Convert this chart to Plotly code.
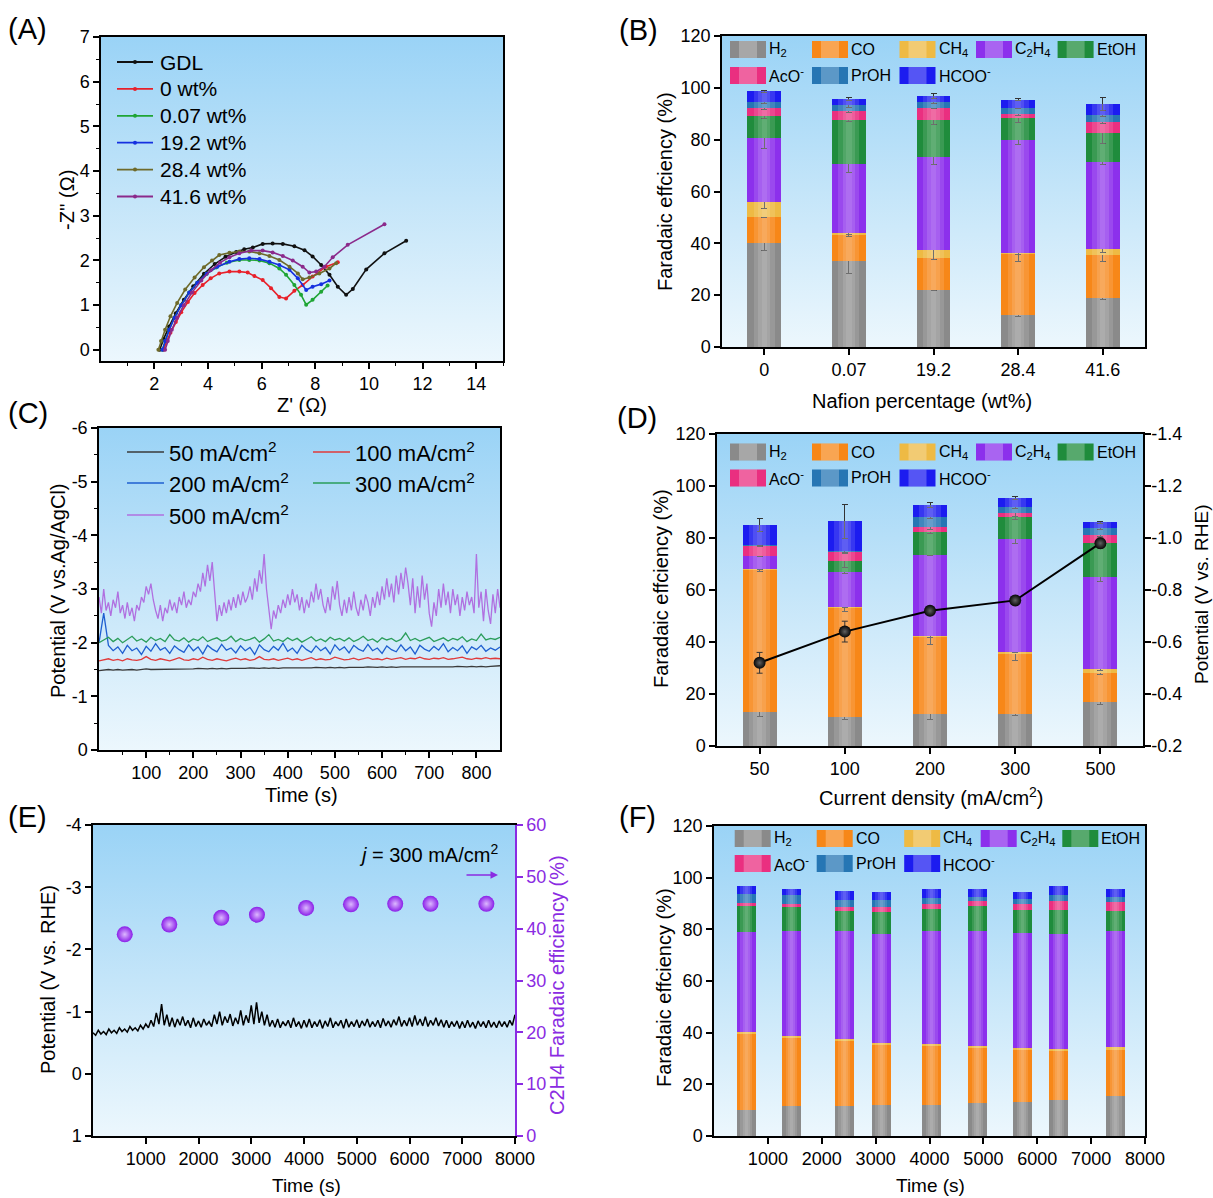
import base64
import plotly.graph_objects as go

W, H = 1213, 1198
FONT = "Liberation Sans, Arial, sans-serif"

# ---------------- Panel A: Nyquist plots ----------------
A_GDL_X = [2.20, 2.35, 2.55, 2.80, 3.10, 3.45, 3.85, 4.25, 4.65, 5.05, 5.35, 5.67, 6.04, 6.41, 6.79, 7.22, 7.60, 7.90, 8.22, 8.53, 8.84, 9.15, 9.40, 9.90, 10.58, 11.39]
A_GDL_Y = [0.00, 0.25, 0.52, 0.82, 1.12, 1.42, 1.70, 1.92, 2.08, 2.19, 2.25, 2.29, 2.37, 2.38, 2.37, 2.32, 2.23, 2.09, 1.90, 1.68, 1.41, 1.23, 1.36, 1.80, 2.16, 2.44]
A_0_X = [2.35, 2.45, 2.60, 2.80, 3.00, 3.25, 3.50, 3.80, 4.10, 4.42, 4.80, 5.17, 5.48, 5.73, 6.04, 6.35, 6.66, 6.91, 7.22, 7.53, 7.90, 8.40, 8.84]
A_0_Y = [0.00, 0.18, 0.38, 0.62, 0.84, 1.07, 1.27, 1.45, 1.60, 1.71, 1.75, 1.75, 1.73, 1.65, 1.56, 1.38, 1.18, 1.15, 1.32, 1.45, 1.64, 1.86, 1.96]
A_007_X = [2.30, 2.40, 2.55, 2.75, 3.00, 3.30, 3.60, 3.95, 4.30, 4.70, 5.17, 5.54, 5.92, 6.29, 6.66, 6.91, 7.22, 7.47, 7.66, 7.90, 8.22, 8.46]
A_007_Y = [0.00, 0.20, 0.45, 0.72, 1.00, 1.28, 1.50, 1.70, 1.84, 1.95, 2.01, 2.01, 2.00, 1.94, 1.82, 1.68, 1.45, 1.23, 1.01, 1.12, 1.30, 1.44]
A_192_X = [2.30, 2.40, 2.55, 2.75, 3.00, 3.30, 3.60, 3.95, 4.35, 4.80, 5.17, 5.54, 5.92, 6.29, 6.66, 7.04, 7.35, 7.66, 7.90, 8.22, 8.53]
A_192_Y = [0.00, 0.20, 0.45, 0.72, 1.00, 1.28, 1.50, 1.70, 1.86, 1.97, 2.03, 2.05, 2.03, 1.97, 1.90, 1.79, 1.60, 1.34, 1.41, 1.47, 1.55]
A_284_X = [2.15, 2.25, 2.40, 2.60, 2.85, 3.15, 3.50, 3.85, 4.15, 4.42, 4.80, 5.17, 5.54, 5.92, 6.29, 6.66, 7.04, 7.35, 7.53, 7.78, 8.15, 8.53, 8.78]
A_284_Y = [0.00, 0.20, 0.45, 0.75, 1.05, 1.35, 1.62, 1.85, 2.00, 2.12, 2.17, 2.20, 2.20, 2.16, 2.10, 2.01, 1.86, 1.71, 1.58, 1.62, 1.71, 1.82, 1.94]
A_416_X = [2.40, 2.50, 2.65, 2.85, 3.10, 3.40, 3.75, 4.10, 4.45, 4.80, 5.17, 5.61, 6.04, 6.41, 6.79, 7.16, 7.53, 7.78, 8.03, 8.34, 8.65, 9.21, 10.58]
A_416_Y = [0.00, 0.20, 0.45, 0.72, 1.00, 1.28, 1.55, 1.78, 1.95, 2.07, 2.16, 2.22, 2.22, 2.18, 2.10, 2.00, 1.86, 1.73, 1.75, 1.86, 2.07, 2.35, 2.81]
A_NAMES = ["GDL", "0 wt%", "0.07 wt%", "19.2 wt%", "28.4 wt%", "41.6 wt%"]
A_COLORS = ["#111111", "#e8202a", "#1fa535", "#1530e0", "#6e6a2a", "#8b2a8b"]

# ---------------- Panel B / D / F: Faradaic efficiencies ----------------
SPECIES = ["H<sub>2</sub>", "CO", "CH<sub>4</sub>", "C<sub>2</sub>H<sub>4</sub>", "EtOH",
           "AcO<sup>-</sup>", "PrOH", "HCOO<sup>-</sup>"]
SP_COLORS = ["#8a8a8a", "#f78718", "#eeba44", "#8c30ec", "#1f8c3c", "#ea2f80", "#2676b4", "#1c1cf0"]

B_CATS = ["0", "0.07", "19.2", "28.4", "41.6"]
B_H2 = [40.3, 33.2, 22.1, 12.3, 19.1]
B_CO = [10.0, 10.3, 12.2, 23.6, 16.5]
B_CH4 = [5.5, 0.4, 3.2, 0.3, 2.1]
B_C2H4 = [24.7, 26.6, 35.9, 43.6, 33.5]
B_ETOH = [8.6, 17.0, 14.1, 8.4, 11.2]
B_ACO = [3.3, 3.6, 4.9, 1.7, 4.5]
B_PROH = [2.1, 2.2, 2.2, 2.5, 2.6]
B_HCOO = [4.1, 2.3, 2.2, 3.1, 4.2]
B_H2_E = [2.9, 5.0, 0.4, 0.6, 0.8]
B_CO_E = [0.5, 0.8, 0.5, 3.0, 2.5]
B_CH4_E = [2.2, 0.5, 3.8, 0.5, 1.2]
B_C2H4_E = [3.8, 3.0, 3.0, 1.5, 0.7]
B_ETOH_E = [0.8, 0.5, 1.8, 1.5, 4.0]
B_ACO_E = [0.8, 0.7, 0.5, 0.5, 0.5]
B_PROH_E = [0.5, 1.0, 0.5, 0.5, 0.5]
B_HCOO_E = [0.3, 0.5, 1.0, 0.3, 2.5]

D_CATS = ["50", "100", "200", "300", "500"]
D_H2 = [13.1, 11.1, 12.2, 12.4, 17.0]
D_CO = [54.9, 42.3, 29.9, 23.3, 10.9]
D_CH4 = [0.2, 0.2, 0.1, 0.4, 1.7]
D_C2H4 = [5.0, 13.2, 31.4, 43.5, 35.5]
D_ETOH = [0.0, 4.5, 8.8, 8.6, 12.9]
D_ACO = [3.9, 3.5, 1.7, 1.4, 3.2]
D_PROH = [0.2, 0.3, 3.8, 2.4, 2.6]
D_HCOO = [7.7, 11.3, 4.8, 3.4, 2.2]
D_H2_E = [1.8, 0.9, 2.0, 0.8, 1.0]
D_CO_E = [1.0, 1.5, 3.2, 2.9, 0.5]
D_CH4_E = [0.3, 0.3, 0.3, 0.3, 0.5]
D_C2H4_E = [0.5, 0.5, 0.3, 1.8, 2.0]
D_ETOH_E = [0.0, 2.5, 0.5, 1.0, 1.0]
D_ACO_E = [0.3, 0.5, 1.0, 1.5, 0.5]
D_PROH_E = [0.3, 1.0, 0.5, 0.5, 0.5]
D_HCOO_E = [2.5, 6.5, 1.0, 0.5, 0.3]
D_POT = [-0.52, -0.64, -0.72, -0.76, -0.98]
D_POT_E = [0.04, 0.04, 0.01, 0.01, 0.02]
D_POT_TICKS = [-0.2, -0.4, -0.6, -0.8, -1.0, -1.2, -1.4]

F_TIME = [598, 1438, 2415, 3102, 4042, 4889, 5727, 6394, 7457]
F_H2 = [10.2, 11.5, 11.6, 11.9, 12.1, 12.9, 13.2, 14.1, 15.4]
F_CO = [29.4, 26.8, 25.4, 23.6, 23.1, 21.4, 20.1, 18.9, 18.2]
F_CH4 = [0.7, 0.5, 0.5, 0.5, 0.5, 0.5, 0.6, 0.5, 0.7]
F_C2H4 = [38.7, 40.6, 41.9, 42.3, 43.7, 44.6, 44.7, 44.8, 45.1]
F_ETOH = [9.9, 9.2, 7.7, 8.5, 8.3, 9.5, 8.8, 9.3, 7.7]
F_ACO = [1.3, 1.3, 1.5, 1.8, 2.0, 1.9, 2.3, 3.2, 3.5]
F_PROH = [3.3, 3.3, 2.9, 2.6, 2.6, 1.7, 2.2, 2.4, 1.9]
F_HCOO = [3.1, 2.5, 3.3, 3.3, 3.4, 3.2, 2.6, 3.6, 3.2]

# ---------------- Panel C: chronopotentiometry ----------------
C_T10 = list(range(0, 851, 10))
C_T5 = list(range(0, 851, 5))
C_YTICKS = [0, -1, -2, -3, -4, -5, -6]
C_NAMES = ["50 mA/cm<sup>2</sup>", "100 mA/cm<sup>2</sup>", "200 mA/cm<sup>2</sup>",
           "300 mA/cm<sup>2</sup>", "500 mA/cm<sup>2</sup>"]
C_COLORS = ["#3a3a3a", "#e03a3a", "#1f5fd0", "#2a9d5a", "#b070e0"]
C_50 = [-1.48, -1.49, -1.50, -1.49, -1.50, -1.49, -1.50, -1.50, -1.49, -1.50,
        -1.51, -1.50, -1.50, -1.51, -1.50, -1.51, -1.50, -1.51, -1.51, -1.50,
        -1.51, -1.52, -1.51, -1.51, -1.52, -1.51, -1.52, -1.51, -1.52, -1.52,
        -1.51, -1.52, -1.53, -1.52, -1.52, -1.53, -1.52, -1.53, -1.52, -1.53,
        -1.53, -1.52, -1.53, -1.53, -1.52, -1.53, -1.54, -1.53, -1.53, -1.54,
        -1.53, -1.54, -1.53, -1.54, -1.54, -1.53, -1.54, -1.55, -1.54, -1.54,
        -1.55, -1.54, -1.55, -1.54, -1.55, -1.55, -1.54, -1.55, -1.54, -1.55,
        -1.55, -1.54, -1.55, -1.55, -1.54, -1.55, -1.56, -1.55, -1.55, -1.56,
        -1.55, -1.56, -1.55, -1.56, -1.56, -1.57]
C_100 = [-1.66, -1.68, -1.70, -1.67, -1.69, -1.66, -1.70, -1.68, -1.67, -1.69,
         -1.74, -1.69, -1.67, -1.70, -1.68, -1.66, -1.69, -1.72, -1.68, -1.67,
         -1.70, -1.68, -1.73, -1.69, -1.67, -1.70, -1.68, -1.66, -1.69, -1.71,
         -1.68, -1.70, -1.67, -1.69, -1.74, -1.69, -1.68, -1.70, -1.67, -1.69,
         -1.71, -1.68, -1.70, -1.67, -1.69, -1.72, -1.68, -1.70, -1.68, -1.69,
         -1.73, -1.70, -1.68, -1.69, -1.71, -1.68, -1.70, -1.72, -1.69, -1.70,
         -1.68, -1.71, -1.69, -1.70, -1.72, -1.69, -1.71, -1.70, -1.73, -1.70,
         -1.69, -1.71, -1.70, -1.72, -1.69, -1.70, -1.71, -1.73, -1.70, -1.69,
         -1.71, -1.70, -1.72, -1.70, -1.71, -1.70]
C_200 = [-2.00, -2.55, -1.95, -1.85, -1.92, -1.80, -1.95, -1.85, -1.90, -1.78,
         -1.93, -1.84, -1.98, -1.86, -1.91, -1.80, -1.94, -1.87, -1.82, -1.96,
         -1.85, -1.92, -1.79, -1.95, -1.88, -1.83, -1.97, -1.86, -1.90, -1.81,
         -1.94, -1.85, -1.91, -1.78, -1.96, -1.87, -1.83, -1.93, -1.86, -1.99,
         -1.84, -1.90, -1.80, -1.95, -1.87, -1.82, -1.94, -1.85, -1.91, -1.79,
         -1.96, -1.86, -1.92, -1.81, -1.95, -1.88, -1.84, -1.97, -1.85, -1.90,
         -1.80, -1.94, -1.87, -1.83, -1.96, -1.85, -1.92, -1.79, -1.95, -1.88,
         -1.84, -1.93, -1.86, -1.98, -1.83, -1.91, -1.85, -1.94, -1.80, -1.92,
         -1.87, -1.95, -1.84, -1.90, -1.86, -1.92]
C_300 = [-2.00, -2.05, -2.10, -2.02, -2.08, -2.00, -2.06, -2.12, -2.03, -2.07,
         -2.01, -2.10, -2.04, -2.08, -2.02, -2.15, -2.05, -2.03, -2.09, -2.01,
         -2.07, -2.04, -2.11, -2.02, -2.06, -2.09, -2.03, -2.05, -2.12, -2.02,
         -2.08, -2.04, -2.06, -2.10, -2.01, -2.07, -2.15, -2.03, -2.06, -2.02,
         -2.09, -2.04, -2.08, -2.01, -2.06, -2.11, -2.03, -2.07, -2.02, -2.10,
         -2.05, -2.08, -2.03, -2.09, -2.02, -2.06, -2.12, -2.04, -2.07, -2.01,
         -2.09, -2.05, -2.08, -2.02, -2.06, -2.18, -2.04, -2.08, -2.03, -2.07,
         -2.10, -2.02, -2.06, -2.09, -2.03, -2.08, -2.05, -2.11, -2.02, -2.07,
         -2.04, -2.16, -2.05, -2.08, -2.06, -2.10]
C_500 = [-2.85, -2.55, -3.00, -2.60, -2.75, -2.50, -2.80, -2.65, -2.95, -2.55,
         -2.70, -2.45, -2.75, -2.50, -2.65, -2.40, -2.70, -2.60, -2.85, -2.75,
         -3.05, -2.90, -3.10, -2.80, -2.60, -2.45, -2.70, -2.40, -2.65, -2.55,
         -2.80, -2.60, -2.75, -2.55, -2.85, -2.70, -2.95, -2.65, -2.80, -2.70,
         -2.95, -2.85, -3.10, -2.95, -3.30, -3.05, -3.45, -3.15, -3.50, -2.90,
         -2.40, -2.70, -2.50, -2.75, -2.55, -2.80, -2.60, -2.85, -2.65, -2.90,
         -2.70, -2.95, -2.75, -2.85, -3.05, -2.80, -3.20, -2.95, -3.35, -3.10,
         -3.65, -3.00, -2.60, -2.25, -2.60, -2.45, -2.70, -2.55, -2.80, -2.65,
         -2.90, -2.70, -3.00, -2.75, -2.90, -2.60, -2.85, -2.55, -2.80, -2.65,
         -2.95, -2.75, -3.10, -2.80, -3.00, -2.70, -2.55, -2.85, -2.60, -3.05,
         -2.80, -3.15, -2.70, -2.50, -2.80, -2.55, -2.85, -2.60, -2.95, -2.65,
         -2.50, -2.80, -2.60, -2.90, -2.75, -2.50, -2.85, -2.65, -2.95, -2.70,
         -3.05, -2.80, -3.20, -2.85, -3.10, -2.75, -3.25, -2.90, -3.30, -3.00,
         -3.40, -3.10, -2.70, -3.20, -2.55, -3.05, -2.65, -3.25, -2.80, -3.10,
         -2.55, -2.30, -2.75, -2.50, -3.00, -2.65, -3.10, -2.70, -2.95, -2.55,
         -3.00, -2.70, -2.90, -2.50, -2.85, -2.60, -2.95, -2.70, -2.85, -2.55,
         -3.65, -2.65, -2.95, -2.40, -3.00, -2.60, -2.35, -2.90, -2.55, -3.00,
         -2.65]

# ---------------- Panel E: stability test ----------------
E_T = list(range(0, 8001, 50))
E_YTICKS = [1, 0, -1, -2, -3, -4]
E_POT = [-0.66, -0.62, -0.70, -0.64, -0.68, -0.63, -0.72, -0.66, -0.70, -0.65, -0.74,
         -0.68, -0.72, -0.67, -0.76, -0.70, -0.74, -0.69, -0.78, -0.72, -0.80,
         -0.74, -0.86, -0.76, -0.98, -0.80, -1.12, -0.78, -0.95, -0.76, -0.90,
         -0.75, -0.88, -0.78, -0.92, -0.77, -0.86, -0.74, -0.90, -0.76, -0.85,
         -0.75, -0.88, -0.78, -0.84, -0.76, -0.95, -0.80, -1.00, -0.78, -0.92,
         -0.82, -0.96, -0.77, -0.90, -0.80, -1.02, -0.78, -0.94, -0.82, -1.10,
         -0.80, -1.15, -0.82, -1.00, -0.78, -0.95, -0.76, -0.86, -0.75, -0.88,
         -0.74, -0.84, -0.77, -0.86, -0.74, -0.90, -0.76, -0.84, -0.73, -0.86,
         -0.75, -0.88, -0.74, -0.84, -0.76, -0.87, -0.73, -0.85, -0.76, -0.90,
         -0.74, -0.84, -0.77, -0.86, -0.73, -0.88, -0.75, -0.84, -0.76, -0.87,
         -0.74, -0.85, -0.77, -0.88, -0.75, -0.84, -0.76, -0.86, -0.74, -0.89,
         -0.77, -0.85, -0.75, -0.87, -0.78, -0.92, -0.76, -0.86, -0.77, -0.90,
         -0.76, -0.94, -0.78, -0.88, -0.77, -0.92, -0.76, -0.86, -0.78, -0.90,
         -0.77, -0.87, -0.75, -0.86, -0.74, -0.84, -0.76, -0.85, -0.73, -0.84,
         -0.74, -0.86, -0.75, -0.83, -0.73, -0.85, -0.76, -0.84, -0.74, -0.86,
         -0.75, -0.83, -0.74, -0.85, -0.76, -0.84, -0.75, -0.86, -0.78, -0.95]
E_FE_T = [602, 1446, 2432, 3108, 4040, 4890, 5729, 6398, 7457]
E_FE = [38.9, 40.8, 42.1, 42.7, 44.0, 44.7, 44.8, 44.8, 44.8]

PURPLE = "#8a2be2"
TICK = 18
TS = 20


def px(x):
    return x / W


def py(y):
    return 1 - y / H


def xdom(x0, x1):
    return [px(x0), px(x1)]


def ydom(y0, y1):
    return [py(y1), py(y0)]


def axis(**kw):
    base = dict(showline=True, linecolor="black", linewidth=1.5, mirror=True,
                ticks="outside", ticklen=6, tickwidth=1.5, tickcolor="black",
                tickfont=dict(size=TICK, color="black", family=FONT),
                showgrid=False, zeroline=False)
    base.update(kw)
    return base


MINOR = dict(ticklen=3, ticks="outside", tickcolor="black", tickwidth=1.2)

fig = go.Figure()

# ---- A traces
for xs, ys, name, col in zip([A_GDL_X, A_0_X, A_007_X, A_192_X, A_284_X, A_416_X],
                             [A_GDL_Y, A_0_Y, A_007_Y, A_192_Y, A_284_Y, A_416_Y],
                             A_NAMES, A_COLORS):
    fig.add_trace(go.Scatter(x=xs, y=ys, name=name, mode="lines+markers",
                             line=dict(color=col, width=1.6), marker=dict(size=4, color=col),
                             xaxis="x", yaxis="y", showlegend=False))

# ---- stacked bars
B_VALS = [B_H2, B_CO, B_CH4, B_C2H4, B_ETOH, B_ACO, B_PROH, B_HCOO]
B_ERRS = [B_H2_E, B_CO_E, B_CH4_E, B_C2H4_E, B_ETOH_E, B_ACO_E, B_PROH_E, B_HCOO_E]
D_VALS = [D_H2, D_CO, D_CH4, D_C2H4, D_ETOH, D_ACO, D_PROH, D_HCOO]
D_ERRS = [D_H2_E, D_CO_E, D_CH4_E, D_C2H4_E, D_ETOH_E, D_ACO_E, D_PROH_E, D_HCOO_E]
F_VALS = [F_H2, F_CO, F_CH4, F_C2H4, F_ETOH, F_ACO, F_PROH, F_HCOO]


def add_stack(xs, vals, errs, width, xa, ya):
    for i, sp in enumerate(SPECIES):
        err = None
        if errs is not None:
            err = dict(type="data", array=errs[i], color="#333333", thickness=1, width=3)
        fig.add_trace(go.Bar(x=xs, y=vals[i], name=sp, width=width,
                             marker=dict(color=SP_COLORS[i], line=dict(width=0)),
                             error_y=err, xaxis=xa, yaxis=ya, showlegend=False))
    # cylinder-like shading: translucent light stripes over the middle of each column
    totals = [round(sum(col), 2) for col in zip(*vals)]
    for frac, alpha in [(0.62, 0.12), (0.36, 0.12), (0.16, 0.09)]:
        fig.add_trace(go.Bar(x=xs, y=totals, base=[0] * len(xs), width=width * frac,
                             marker=dict(color=f"rgba(255,255,255,{alpha})", line=dict(width=0)),
                             hoverinfo="skip", xaxis=xa, yaxis=ya, showlegend=False))


add_stack(B_CATS, B_VALS, B_ERRS, 0.4, "x2", "y2")
add_stack(D_CATS, D_VALS, D_ERRS, 0.4, "x4", "y4")
add_stack(F_TIME, F_VALS, None, 350, "x6", "y8")

# D potential line (right axis)
fig.add_trace(go.Scatter(x=D_CATS, y=D_POT, mode="lines+markers", name="Potential",
                         line=dict(color="black", width=2),
                         marker=dict(size=12, color="#050505",
                                     gradient=dict(type="radial", color="#606060")),
                         error_y=dict(type="data", array=D_POT_E, color="#333333", thickness=1, width=3),
                         xaxis="x4", yaxis="y5", showlegend=False))

# ---- C traces
for ts, vs, name, col in zip([C_T10, C_T10, C_T10, C_T10, C_T5],
                             [C_50, C_100, C_200, C_300, C_500], C_NAMES, C_COLORS):
    fig.add_trace(go.Scatter(x=ts, y=vs, name=name, mode="lines",
                             line=dict(color=col, width=1.3),
                             xaxis="x3", yaxis="y3", showlegend=False))

# ---- E traces
fig.add_trace(go.Scatter(x=E_T, y=E_POT, mode="lines", name="Potential",
                         line=dict(color="black", width=1.5),
                         xaxis="x5", yaxis="y6", showlegend=False))
fig.add_trace(go.Scatter(x=E_FE_T, y=E_FE, mode="markers", name="C2H4 FE",
                         marker=dict(size=16, color="#8a1fe8",
                                     gradient=dict(type="radial", color="#dcb8ff")),
                         xaxis="x5", yaxis="y7", showlegend=False))

# ---------------- layout ----------------
A_BOX = (101, 503, 37, 361)
B_BOX = (722, 1145, 36, 347)
C_BOX = (99, 500, 428, 750)
D_BOX = (717, 1143, 434, 746)
E_BOX = (93, 515, 825, 1136)
F_BOX = (714, 1145, 826, 1136)

layout = dict(
    width=W, height=H, margin=dict(l=0, r=0, t=0, b=0),
    paper_bgcolor="white", plot_bgcolor="rgba(0,0,0,0)",
    font=dict(family=FONT, size=TICK, color="black"),
    barmode="stack", showlegend=False, template="none",
    xaxis=axis(domain=xdom(A_BOX[0], A_BOX[1]), anchor="y", range=[0.01, 15],
               tickvals=[2, 4, 6, 8, 10, 12, 14],
               minor=dict(tickvals=[1, 3, 5, 7, 9, 11, 13, 15], **MINOR)),
    yaxis=axis(domain=ydom(A_BOX[2], A_BOX[3]), anchor="x", range=[-0.25, 7],
               tickvals=[0, 1, 2, 3, 4, 5, 6, 7],
               minor=dict(tickvals=[0.5, 1.5, 2.5, 3.5, 4.5, 5.5, 6.5], **MINOR)),
    xaxis2=axis(domain=xdom(B_BOX[0], B_BOX[1]), anchor="y2", type="category", range=[-0.5, 4.5]),
    yaxis2=axis(domain=ydom(B_BOX[2], B_BOX[3]), anchor="x2", range=[0, 120], dtick=20),
    xaxis3=axis(domain=xdom(C_BOX[0], C_BOX[1]), anchor="y3", range=[0, 850],
                tickvals=[100, 200, 300, 400, 500, 600, 700, 800],
                minor=dict(tickvals=[50, 150, 250, 350, 450, 550, 650, 750], **MINOR)),
    yaxis3=axis(domain=ydom(C_BOX[2], C_BOX[3]), anchor="x3", range=[0, -6],
                tickvals=C_YTICKS, ticktext=[f"{v:g}" for v in C_YTICKS],
                minor=dict(tickvals=[-0.5, -1.5, -2.5, -3.5, -4.5, -5.5], **MINOR)),
    xaxis4=axis(domain=xdom(D_BOX[0], D_BOX[1]), anchor="y4", type="category", range=[-0.5, 4.5]),
    yaxis4=axis(domain=ydom(D_BOX[2], D_BOX[3]), anchor="x4", range=[0, 120], dtick=20, mirror=False),
    yaxis5=axis(domain=ydom(D_BOX[2], D_BOX[3]), anchor="x4", overlaying="y4", side="right",
                range=[-0.2, -1.4], tickvals=D_POT_TICKS,
                ticktext=[f"{v:.1f}" for v in D_POT_TICKS], mirror=False,
                ticklabelstandoff=-3, tickfont=dict(size=18, color="black", family=FONT)),
    xaxis5=axis(domain=xdom(E_BOX[0], E_BOX[1]), anchor="y6", range=[0, 8000],
                tickvals=[1000, 2000, 3000, 4000, 5000, 6000, 7000, 8000]),
    yaxis6=axis(domain=ydom(E_BOX[2], E_BOX[3]), anchor="x5", range=[1, -4],
                tickvals=E_YTICKS, ticktext=[f"{v:g}" for v in E_YTICKS], mirror=False),
    yaxis7=axis(domain=ydom(E_BOX[2], E_BOX[3]), anchor="x5", overlaying="y6", side="right",
                range=[0, 60], tickvals=[0, 10, 20, 30, 40, 50, 60], mirror=False,
                linecolor=PURPLE, tickcolor=PURPLE,
                tickfont=dict(size=TICK, color=PURPLE, family=FONT)),
    xaxis6=axis(domain=xdom(F_BOX[0], F_BOX[1]), anchor="y8", range=[0, 8000],
                tickvals=[1000, 2000, 3000, 4000, 5000, 6000, 7000, 8000]),
    yaxis8=axis(domain=ydom(F_BOX[2], F_BOX[3]), anchor="x6", range=[0, 120], dtick=20),
)
fig.update_layout(**layout)

# ---- gradient backgrounds behind each plot area
svg = ('<svg xmlns="http://www.w3.org/2000/svg" width="10" height="100" viewBox="0 0 10 100" '
       'preserveAspectRatio="none"><defs><linearGradient id="g" x1="0" y1="0" x2="0" y2="1">'
       '<stop offset="0" stop-color="#9ad3f6"/><stop offset="0.5" stop-color="#c4e5f9"/>'
       '<stop offset="1" stop-color="#ecf7fd"/></linearGradient></defs>'
       '<rect width="10" height="100" fill="url(#g)"/></svg>')
src = "data:image/svg+xml;base64," + base64.b64encode(svg.encode()).decode()
images = []
for xa, ya in [("x", "y"), ("x2", "y2"), ("x3", "y3"), ("x4", "y4"), ("x5", "y6"), ("x6", "y8")]:
    images.append(dict(source=src, xref=xa + " domain", yref=ya + " domain", x=0, y=1,
                       sizex=1, sizey=1, sizing="stretch", xanchor="left", yanchor="top",
                       layer="below"))
fig.update_layout(images=images)

shapes = []
annotations = []


def text(x, y, s, size=TICK, color="black", xanchor="center", angle=0):
    annotations.append(dict(x=px(x), y=py(y), xref="paper", yref="paper", text=s,
                            showarrow=False, xanchor=xanchor, yanchor="middle",
                            textangle=angle, font=dict(size=size, color=color, family=FONT)))


# panel labels
for lab, x, y in [("(A)", 6, 29), ("(B)", 617, 30), ("(C)", 6, 413),
                  ("(D)", 615, 418), ("(E)", 6, 817), ("(F)", 617, 817)]:
    text(x, y, lab, size=29, xanchor="left")

# axis titles
text(302, 405, "Z' (\u03a9)", TS)
text(67, 200, "-Z'' (\u03a9)", TS, angle=-90)
text(922, 401, "Nafion percentage (wt%)", TS)
text(665, 192, "Faradaic effciency (%)", TS, angle=-90)
text(301, 795, "Time (s)", TS)
text(58, 591, "Potential (V vs.Ag/AgCl)", TS, angle=-90)
text(932, 796, "Current density (mA/cm<sup>2</sup>)", TS)
text(661, 589, "Faradaic effciency (%)", TS, angle=-90)
text(1201, 594, "Potential (V vs. RHE)", 19, angle=-90)
text(306, 1185, "Time (s)", 19)
text(48, 980, "Potential (V vs. RHE)", TS, angle=-90)
text(557, 985, "C2H4 Faradaic efficiency (%)", TS, color=PURPLE, angle=-90)
text(930, 1185, "Time (s)", 19)
text(664, 988, "Faradaic effciency (%)", TS, angle=-90)

# panel A legend
for i, (name, col) in enumerate(zip(A_NAMES, A_COLORS)):
    yy = 62 + i * 26.9
    shapes.append(dict(type="line", xref="paper", yref="paper", x0=px(117), x1=px(153),
                       y0=py(yy), y1=py(yy), line=dict(color=col, width=1.8)))
    shapes.append(dict(type="circle", xref="paper", yref="paper", x0=px(133), x1=px(137),
                       y0=py(yy + 2), y1=py(yy - 2), fillcolor=col, line=dict(width=0)))
    text(158, yy, name, 21, xanchor="left")

# panel C legend
C_LEG = [(127, 452), (313, 452), (127, 483), (313, 483), (127, 515)]
for (lx, ly), name, col in zip(C_LEG, C_NAMES, C_COLORS):
    shapes.append(dict(type="line", xref="paper", yref="paper", x0=px(lx), x1=px(lx + 37),
                       y0=py(ly), y1=py(ly), line=dict(color=col, width=1.5)))
    text(lx + 40, ly, name, 22, xanchor="left")

# bar legends (B, D, F)
LEG_X = [0, 82, 169.5, 246, 327.6]
for x0, y1, y2 in [(730, 49.5, 75.5), (730, 452, 478), (734.7, 838.5, 863.5)]:
    for i, sp in enumerate(SPECIES):
        row = 0 if i < 5 else 1
        col = i if i < 5 else i - 5
        sx = x0 + LEG_X[col]
        sy = y1 if row == 0 else y2
        shapes.append(dict(type="rect", xref="paper", yref="paper", x0=px(sx), x1=px(sx + 36),
                           y0=py(sy + 8.5), y1=py(sy - 8.5), fillcolor=SP_COLORS[i], line=dict(width=0)))
        shapes.append(dict(type="rect", xref="paper", yref="paper", x0=px(sx + 9), x1=px(sx + 27),
                           y0=py(sy + 8.5), y1=py(sy - 8.5), fillcolor="rgba(255,255,255,0.25)",
                           line=dict(width=0)))
        text(sx + 37, sy, sp, 16, xanchor="left")

# panel E annotation and arrow
text(500, 853, "<i>j</i> = 300 mA/cm<sup>2</sup>", TS, xanchor="right")
annotations.append(dict(x=px(498), y=py(875), ax=-33, ay=0, xref="paper", yref="paper",
                        axref="pixel", ayref="pixel", text="", showarrow=True, arrowhead=2,
                        arrowsize=1, arrowwidth=1.5, arrowcolor=PURPLE))

fig.update_layout(shapes=shapes, annotations=annotations)
# remove the default page margin so the figure sits at the window's top-left corner
fig.write_html("out.html", config={"displayModeBar": False},
               post_script="document.body.style.margin='0';")
